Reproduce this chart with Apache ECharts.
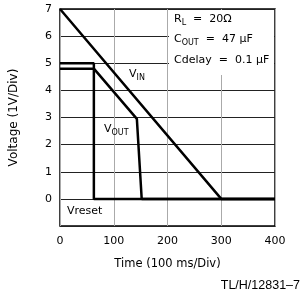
<!DOCTYPE html>
<html><head><meta charset="utf-8">
<script src="https://cdn.jsdelivr.net/npm/echarts@6/dist/echarts.min.js"></script>
<style>html,body{margin:0;padding:0;background:#fff}#c{width:306px;height:297px}</style>
</head><body><div id="c"></div>
<script>
const xTicks = [0, 100, 200, 300, 400];
const yTicks = [0, 1, 2, 3, 4, 5, 6, 7];
const vinData = [[0, 7], [300, 0], [400, 0]];
const voutData = [[0, 4.8], [63, 4.8], [143, 2.95], [152, 0], [400, 0]];
const vresetData = [[0, 5], [63, 5], [63, 0], [400, 0]];

const FONT = 'DejaVu Sans';
const chart = echarts.init(document.getElementById('c'));
const lineStyle = w => ({ color: '#000', width: w });
const sub = { n: { fontFamily: FONT, fontSize: 11, fill: '#000' }, s: { fontFamily: FONT, fontSize: 8, fill: '#000', padding: [6, 0, 0, 0] } };
chart.setOption({
  animation: false,
  grid: { left: 59, top: 9, width: 216, height: 217, show: true, borderColor: '#000', borderWidth: 1.5, backgroundColor: 'transparent' },
  xAxis: {
    type: 'value', min: 0, max: 400, interval: 100,
    axisLine: { show: false }, axisTick: { show: false },
    axisLabel: { color: '#000', fontFamily: FONT, fontSize: 11, margin: 10 },
    splitLine: { show: true, lineStyle: { color: '#aaa', width: 1 } },
    name: 'Time (100 ms/Div)', nameLocation: 'middle', nameGap: 32,
    nameTextStyle: { color: '#000', fontFamily: FONT, fontSize: 11.5 }
  },
  yAxis: {
    type: 'value', min: -1, max: 7, interval: 1,
    axisLine: { show: false }, axisTick: { show: false },
    axisLabel: { color: '#000', fontFamily: FONT, fontSize: 11, margin: 8,
      formatter: v => (yTicks.indexOf(v) >= 0 ? String(v) : '') },
    splitLine: { show: true, lineStyle: { color: '#222', width: 1 } },
    name: 'Voltage (1V/Div)', nameLocation: 'middle', nameGap: 40,
    nameTextStyle: { color: '#000', fontFamily: FONT, fontSize: 12 }
  },
  graphic: [
    { type: 'rect', z: 1, shape: { x: 169, y: 10, width: 105, height: 65 }, style: { fill: '#fff' } },
    { type: 'text', z: 5, left: 174, top: 14, style: { text: '{n|R}{s|L}{n|  =  20Ω}', rich: sub } },
    { type: 'text', z: 5, left: 174, top: 34, style: { text: '{n|C}{s|OUT}{n|  =  47 μF}', rich: sub } },
    { type: 'text', z: 5, left: 174, top: 55, style: { text: 'Cdelay  =  0.1 μF', fontFamily: FONT, fontSize: 11, fill: '#000' } },
    { type: 'text', z: 5, left: 129, top: 69, style: { text: '{n|V}{s|IN}', rich: sub } },
    { type: 'text', z: 5, left: 104, top: 124, style: { text: '{n|V}{s|OUT}', rich: sub } },
    { type: 'text', z: 5, left: 67, top: 206, style: { text: 'Vreset', fontFamily: FONT, fontSize: 11, fill: '#000' } },
    { type: 'text', z: 5, right: 6, top: 279, style: { text: 'TL/H/12831–7', fontFamily: 'Liberation Sans', fontSize: 12.5, fill: '#000' } }
  ],
  series: [
    { type: 'line', z: 3, data: vinData, symbol: 'none', lineStyle: lineStyle(2.5) },
    { type: 'line', z: 3, data: voutData, symbol: 'none', lineStyle: lineStyle(2.5) },
    { type: 'line', z: 3, data: vresetData, symbol: 'none', lineStyle: lineStyle(2.5) }
  ]
});
</script></body></html>
